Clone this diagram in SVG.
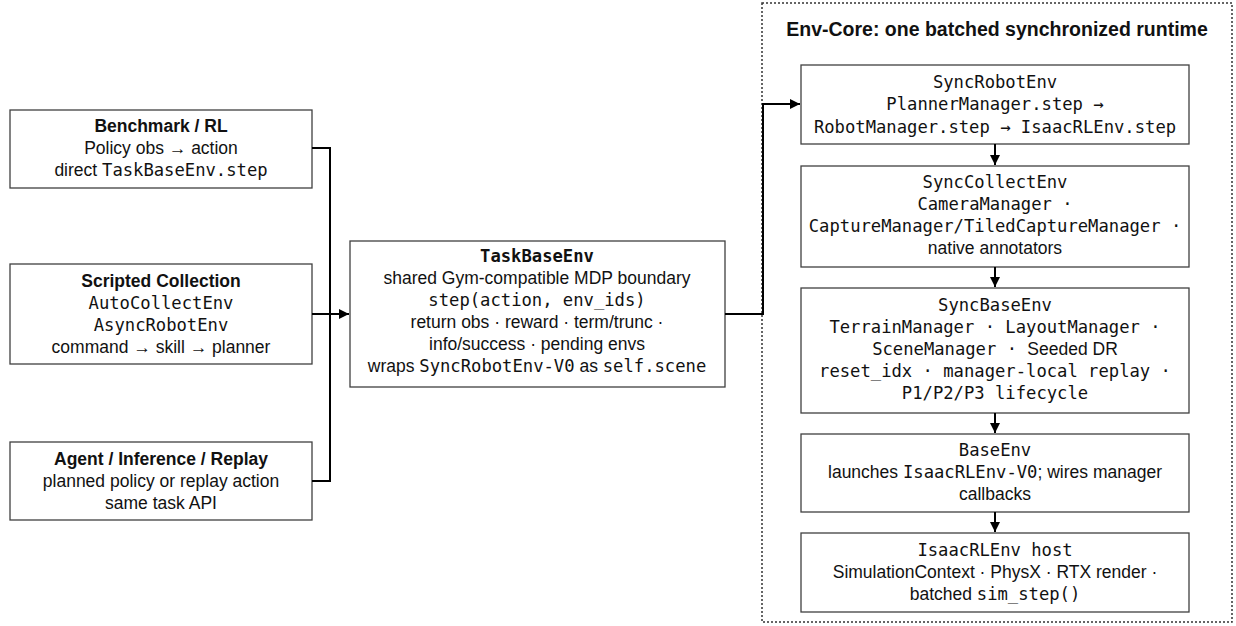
<svg xmlns="http://www.w3.org/2000/svg" width="1236" height="626" viewBox="0 0 1236 626">
<defs>
<style>
.box{fill:#fff;stroke:#404040;stroke-width:1.3}
.t{font-family:"Liberation Sans","Arial",sans-serif;font-size:17.5px;fill:#111;text-anchor:middle}
.b{font-weight:bold}
.m{font-family:"DejaVu Sans Mono","Liberation Mono",monospace;font-size:17.2px}
.c{fill:none;stroke:#000;stroke-width:2}
</style>
<marker id="ah" viewBox="0 0 10 10" refX="10" refY="5" markerWidth="5" markerHeight="5" orient="auto" markerUnits="strokeWidth">
<path d="M0,0 L10,5 L0,10 z" fill="#000"/>
</marker>
</defs>
<rect width="1236" height="626" fill="#fff"/>

<g id="container">
<rect x="762" y="3" width="470" height="619" fill="none" stroke="#333" stroke-width="1.5" stroke-dasharray="2,2"/>
<text class="t b" x="997" y="36" style="font-size:19.5px">Env-Core: one batched synchronized runtime</text>
</g>

<g id="benchmark">
<rect class="box" x="10" y="110" width="302" height="78"/>
<text class="t b" x="161" y="132">Benchmark / RL</text>
<text class="t" x="161" y="154">Policy obs → action</text>
<text class="t" x="161" y="176">direct <tspan class="m">TaskBaseEnv.step</tspan></text>
</g>

<g id="scripted">
<rect class="box" x="10" y="264" width="302" height="100"/>
<text class="t b" x="161" y="287">Scripted Collection</text>
<text class="t m" x="161" y="309">AutoCollectEnv</text>
<text class="t m" x="161" y="331">AsyncRobotEnv</text>
<text class="t" x="161" y="353">command → skill → planner</text>
</g>

<g id="agent">
<rect class="box" x="10" y="442" width="302" height="78"/>
<text class="t b" x="161" y="465">Agent / Inference / Replay</text>
<text class="t" x="161" y="487">planned policy or replay action</text>
<text class="t" x="161" y="509">same task API</text>
</g>

<g id="taskbaseenv">
<rect class="box" x="350" y="241" width="375" height="146"/>
<text class="t m b" x="537" y="262">TaskBaseEnv</text>
<text class="t" x="537" y="284">shared Gym-compatible MDP boundary</text>
<text class="t m" x="537" y="306">step(action, env_ids)</text>
<text class="t" x="537" y="328">return obs · reward · term/trunc ·</text>
<text class="t" x="537" y="350">info/success · pending envs</text>
<text class="t" x="537" y="372">wraps <tspan class="m">SyncRobotEnv-V0</tspan> as <tspan class="m">self.scene</tspan></text>
</g>

<g id="syncrobotenv">
<rect class="box" x="801" y="65" width="388" height="79"/>
<text class="t m" x="995" y="88">SyncRobotEnv</text>
<text class="t m" x="995" y="110">PlannerManager.step →</text>
<text class="t m" x="995" y="133">RobotManager.step → IsaacRLEnv.step</text>
</g>

<g id="synccollectenv">
<rect class="box" x="801" y="166" width="388" height="101"/>
<text class="t m" x="995" y="188">SyncCollectEnv</text>
<text class="t m" x="995" y="210">CameraManager ·</text>
<text class="t m" x="995" y="232">CaptureManager/TiledCaptureManager ·</text>
<text class="t" x="995" y="254">native annotators</text>
</g>

<g id="syncbaseenv">
<rect class="box" x="801" y="288" width="388" height="125"/>
<text class="t m" x="995" y="311">SyncBaseEnv</text>
<text class="t m" x="995" y="333">TerrainManager · LayoutManager ·</text>
<text class="t" x="995" y="355"><tspan class="m">SceneManager · </tspan>Seeded DR</text>
<text class="t m" x="995" y="377">reset_idx · manager-local replay ·</text>
<text class="t m" x="995" y="399">P1/P2/P3 lifecycle</text>
</g>

<g id="baseenv">
<rect class="box" x="801" y="434" width="388" height="78"/>
<text class="t m" x="995" y="456">BaseEnv</text>
<text class="t" x="995" y="478">launches <tspan class="m">IsaacRLEnv-V0</tspan>; wires manager</text>
<text class="t" x="995" y="500">callbacks</text>
</g>

<g id="isaacrlenv">
<rect class="box" x="801" y="533" width="388" height="79"/>
<text class="t m" x="995" y="556">IsaacRLEnv host</text>
<text class="t" x="995" y="578">SimulationContext · PhysX · RTX render ·</text>
<text class="t" x="995" y="600">batched <tspan class="m">sim_step()</tspan></text>
</g>

<g id="connectors">
<path class="c" d="M312,148 H330 V481 H312"/>
<path class="c" d="M312,314 H349" marker-end="url(#ah)"/>
<path class="c" d="M725,314 H763 V104 H800" marker-end="url(#ah)"/>
<path class="c" d="M995,144 V165" marker-end="url(#ah)"/>
<path class="c" d="M995,267 V287" marker-end="url(#ah)"/>
<path class="c" d="M995,413 V433" marker-end="url(#ah)"/>
<path class="c" d="M995,512 V532" marker-end="url(#ah)"/>
</g>
</svg>
